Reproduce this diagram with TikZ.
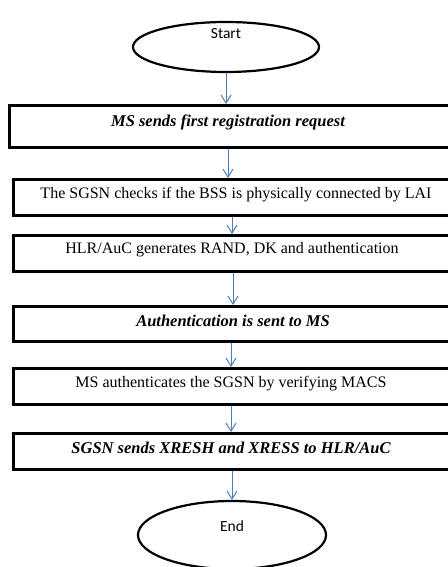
\documentclass[tikz,border=0pt]{standalone}
\usepackage{fontspec}
\setmainfont{Liberation Serif}
\newfontfamily\calfont{Carlito}
\usetikzlibrary{shapes.geometric,arrows.meta}
\definecolor{arrblue}{HTML}{4A7EBB}
\begin{document}
\begin{tikzpicture}[x=1pt,y=-1pt,
 box/.style={draw=black,line width=3pt,rectangle,inner sep=0pt},
 term/.style={draw=black,line width=2.2pt,ellipse,inner sep=0pt},
 arr/.style={draw=arrblue,line width=1pt,-{Straight Barb[length=8pt,width=10pt]}},
 lbl/.style={font=\fontsize{16}{19}\selectfont,inner sep=0pt},
 lblbi/.style={font=\fontsize{16.5}{19}\selectfont\bfseries\itshape,inner sep=0pt},
 tlbl/.style={font=\calfont\fontsize{15.5}{18}\selectfont,inner sep=0pt}]
\useasboundingbox (0,0) rectangle (447,567);
\node[term,minimum width=186pt,minimum height=50pt] (start) at (226,47) {};
\node[tlbl] (ts) at (226,34) {Start};
\node[box,minimum width=445pt,minimum height=42pt] (b1) at (232,126.5) {};
\node[box,minimum width=441pt,minimum height=36pt] (b2) at (234,197.5) {};
\node[box,minimum width=441pt,minimum height=36pt] (b3) at (234,253.5) {};
\node[box,minimum width=441pt,minimum height=35pt] (b4) at (234,324) {};
\node[box,minimum width=441pt,minimum height=36pt] (b5) at (234,386.5) {};
\node[box,minimum width=441pt,minimum height=36pt] (b6) at (234,451.5) {};
\node[lblbi] (t1) at (228,122) {MS sends first registration request};
\node[lbl] (t2) at (236,195) {The SGSN checks if the BSS is physically connected by LAI};
\node[lbl] (t3) at (232,250) {HLR/AuC generates RAND, DK and authentication};
\node[lblbi] (t4) at (233,321) {Authentication is sent to MS};
\node[lbl] (t5) at (231,384) {MS authenticates the SGSN by verifying MACS};
\node[lblbi] (t6) at (231,448) {SGSN sends XRESH and XRESS to HLR/AuC};
\node[term,minimum width=188pt,minimum height=68pt] (end) at (232,535) {};
\node[tlbl] (te) at (232,526) {End};
\draw[arr] (start.south) -- (start.south |- b1.north);
\draw[arr] (t1 |- b1.south) -- (t1 |- b2.north);
\draw[arr] (t3 |- b2.south) -- (t3 |- b3.north);
\draw[arr] (t4 |- b3.south) -- (t4 |- b4.north);
\draw[arr] (t5 |- b4.south) -- (t5 |- b5.north);
\draw[arr] (t6 |- b5.south) -- (t6 |- b6.north);
\draw[arr] (end.north |- b6.south) -- (end.north);
\end{tikzpicture}
\end{document}
